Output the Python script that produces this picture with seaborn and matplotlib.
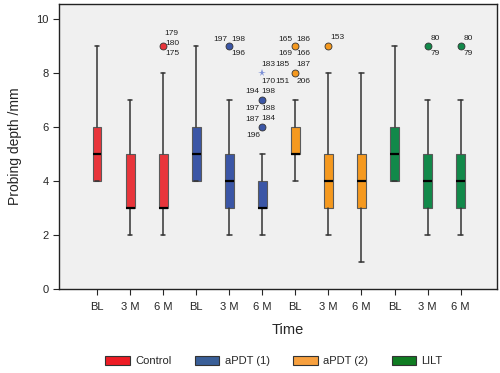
import matplotlib
matplotlib.use("Agg")
import matplotlib.pyplot as plt
from matplotlib.patches import Patch
import seaborn as sns

# box statistics per time point (BL, 3 M, 6 M per group)
groups = ["Control", "aPDT (1)", "aPDT (2)", "LILT"]
times = ["BL", "3 M", "6 M"]
q1 = [4, 3, 3, 4, 3, 3, 5, 3, 3, 4, 3, 3]
med = [5, 3, 3, 5, 4, 3, 5, 4, 4, 5, 4, 4]
q3 = [6, 5, 5, 6, 5, 4, 6, 5, 5, 6, 5, 5]
whis_lo = [4, 2, 2, 4, 2, 2, 4, 2, 1, 4, 2, 2]
whis_hi = [9, 7, 8, 9, 7, 5, 7, 8, 8, 9, 7, 7]

# outliers: box index, value, marker, case labels
out_box = [2, 4, 5, 5, 5, 6, 6, 7, 10, 11]
out_val = [9, 9, 7, 6, 8, 8, 9, 9, 9, 9]
out_kind = ["o", "o", "o", "o", "*", "o", "o", "o", "o", "o"]
out_ids = [["179", "180", "175"],
           ["197", "198", "196"],
           ["194", "198", "197", "188"],
           ["187", "184", "196"],
           ["183", "170"],
           ["185", "187", "151", "206"],
           ["165", "186", "169", "166"],
           ["153"],
           ["80", "79"],
           ["80", "79"]]

box_colors = ["#E8353B", "#3B56A6", "#F5991F", "#12894A"]
legend_colors = ["#EE1C25", "#3A5F98", "#F7A03F", "#107C22"]

# label offsets in pixels relative to each outlier point
label_offsets = [[(8, 13), (9, 3), (9, -7)],
                 [(-9, 7), (9, 7), (9, -7)],
                 [(-10, 9), (6, 9), (-10, -8), (6, -8)],
                 [(-10, 8), (6, 9), (-9, -8)],
                 [(6, 9), (6, -8)],
                 [(-13, 9), (8, 9), (-13, -8), (8, -8)],
                 [(-10, 7), (8, 7), (-10, -7), (8, -7)],
                 [(9, 9)],
                 [(8, 8), (8, -7)],
                 [(8, 8), (8, -7)]]

sns.set_style("ticks")
plt.rcParams['font.family'] = ['Liberation Sans', 'DejaVu Sans']

fig = plt.figure(figsize=(5, 3.73), dpi=100)
ax = fig.add_axes([0.118, 0.2252, 0.876, 0.7641])
ax.set_facecolor("#F0F0F0")

stats = []
for i in range(len(med)):
    stats.append({"q1": q1[i], "med": med[i], "q3": q3[i],
                  "whislo": whis_lo[i], "whishi": whis_hi[i], "fliers": []})

positions = list(range(len(med)))
bp = ax.bxp(stats, positions=positions, widths=0.27, patch_artist=True,
            showfliers=False, capwidths=0.14,
            boxprops=dict(edgecolor="#5a5a5a", linewidth=0.8),
            medianprops=dict(color="black", linewidth=1.6),
            whiskerprops=dict(color="#333333", linewidth=1.1),
            capprops=dict(color="#333333", linewidth=1.1))
for i, box in enumerate(bp["boxes"]):
    box.set_facecolor(box_colors[i // 3])

for k in range(len(out_box)):
    x = out_box[k]
    y = out_val[k]
    col = box_colors[x // 3]
    if out_kind[k] == "*":
        ax.plot(x, y, marker="*", color="#7B8FD6", markersize=5.5,
                markeredgewidth=0, zorder=4)
    else:
        ax.plot(x, y, marker="o", color=col, markersize=5,
                markeredgecolor="#333333", markeredgewidth=0.6, zorder=4)
    for lab, (dx, dy) in zip(out_ids[k], label_offsets[k]):
        ax.annotate(lab, (x, y), xytext=(dx, dy), textcoords="offset pixels",
                    ha="center", va="center", fontsize=6, color="#222222")

ax.set_xlim(-1.15, 12.1)
ax.set_ylim(0, 10.57)
ax.set_xticks(positions)
ax.set_xticklabels(times * 4, fontsize=8)
ax.set_yticks([0, 2, 4, 6, 8, 10])
ax.tick_params(axis="y", labelsize=8, length=4, width=0.8)
ax.tick_params(axis="x", length=4, width=0.8, pad=5)
ax.set_xlabel("Time", fontsize=10.5)
ax.xaxis.set_label_coords((288 - 59) / 438, -0.12)
ax.set_ylabel("Probing depth /mm", fontsize=10)
ax.yaxis.set_label_coords(-0.085, 0.5)
for sp in ax.spines.values():
    sp.set_visible(True)
    sp.set_color("#222222")
    sp.set_linewidth(1.0)

handles = [Patch(facecolor=c, edgecolor="#333333", linewidth=0.8) for c in legend_colors]
fig.legend(handles, groups, loc="center", bbox_to_anchor=(0.548, 0.032),
           ncol=4, frameon=False, fontsize=8, handlelength=2.2,
           handleheight=0.9, columnspacing=2.1, handletextpad=0.5)

fig.savefig("out.png", dpi=100)
